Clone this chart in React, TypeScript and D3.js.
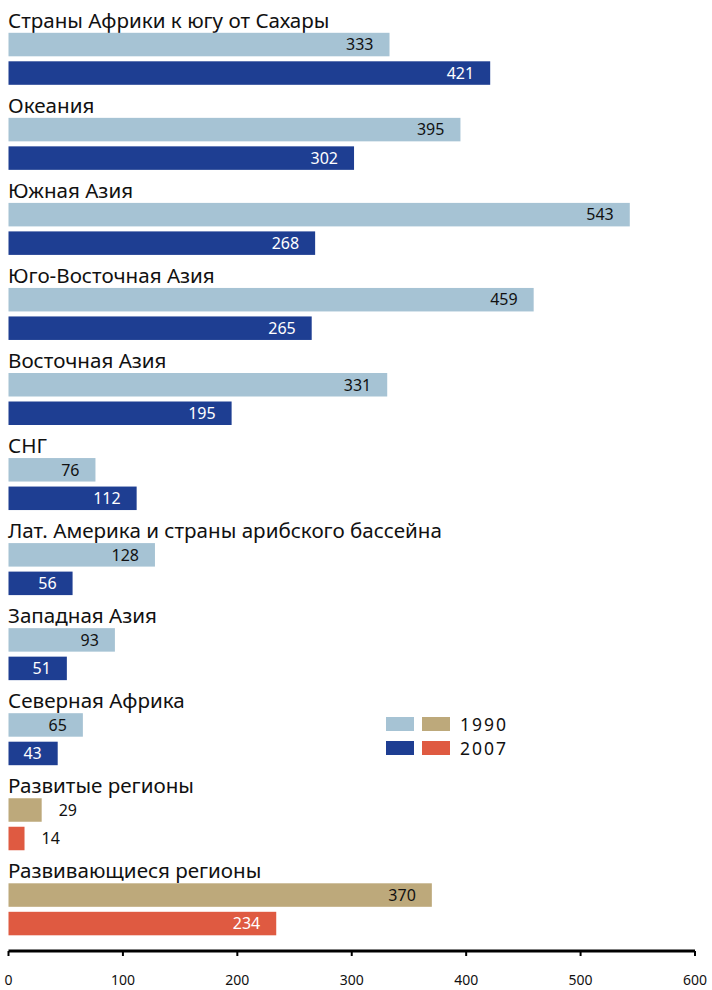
import React from "react";
import * as d3 from "d3";

const categories = [
  "Страны Африки к югу от Сахары",
  "Океания",
  "Южная Азия",
  "Юго-Восточная Азия",
  "Восточная Азия",
  "СНГ",
  "Лат. Америка и страны арибского бассейна",
  "Западная Азия",
  "Северная Африка",
  "Развитые регионы",
  "Развивающиеся регионы",
];
const values1990 = [333, 395, 543, 459, 331, 76, 128, 93, 65, 29, 370];
const values2007 = [421, 302, 268, 265, 195, 112, 56, 51, 43, 14, 234];
const aggregateGroups = ["Развитые регионы", "Развивающиеся регионы"];
const tickValues = [0, 100, 200, 300, 400, 500, 600];
const legendYears = ["1990", "2007"];

const C_LIGHT = "#a6c3d4";
const C_DARK = "#1e3e92";
const C_TAN = "#bda97b";
const C_RED = "#df5a41";

const FONT = "'Noto Sans', 'Open Sans', sans-serif";

export default function App() {
  const W = 712;
  const H = 990;
  const x = d3.scaleLinear().domain([0, 600]).range([8.5, 695]);
  const y = d3
    .scaleBand<string>()
    .domain(categories)
    .range([32.8, 32.8 + 85.05 * categories.length])
    .paddingInner(0)
    .paddingOuter(0);
  const barH = 23.5;
  const off2 = 28.5;
  const axisY = 951;

  return (
    <svg
      width={W}
      height={H}
      style={{ position: "absolute", left: 0, top: 0, background: "#fff" }}
      fontFamily={FONT}
    >
      {categories.map((cat, i) => {
        const y0 = y(cat)!;
        const agg = aggregateGroups.includes(cat);
        const c1 = agg ? C_TAN : C_LIGHT;
        const c2 = agg ? C_RED : C_DARK;
        const bars = [
          { v: values1990[i], yy: y0, color: c1 },
          { v: values2007[i], yy: y0 + off2, color: c2 },
        ];
        return (
          <g key={cat}>
            <text x={8} y={y0 - 5} fontSize={20.6} fill="#111">
              {cat}
            </text>
            {bars.map((b, j) => {
              const xe = x(b.v);
              const inside = b.v >= 40;
              return (
                <g key={j}>
                  <rect x={x(0)} y={b.yy} width={xe - x(0)} height={barH} fill={b.color} />
                  <text
                    x={inside ? xe - 16 : xe + 17}
                    y={b.yy + barH / 2}
                    dy="0.36em"
                    textAnchor={inside ? "end" : "start"}
                    fontSize={16}
                    fill={inside ? (j === 0 ? "#111" : "#fff") : "#111"}
                  >
                    {b.v}
                  </text>
                </g>
              );
            })}
          </g>
        );
      })}

      {/* Legend */}
      <g>
        <rect x={386} y={717} width={28} height={14} fill={C_LIGHT} />
        <rect x={422} y={717} width={28} height={14} fill={C_TAN} />
        <rect x={386} y={741} width={28} height={14} fill={C_DARK} />
        <rect x={422} y={741} width={28} height={14} fill={C_RED} />
        <text x={460} y={730.5} fontSize={17.5} letterSpacing={2} fill="#111">
          {legendYears[0]}
        </text>
        <text x={460} y={754.5} fontSize={17.5} letterSpacing={2} fill="#111">
          {legendYears[1]}
        </text>
      </g>

      {/* Axis */}
      <g>
        <line x1={x(0)} x2={x(600)} y1={axisY} y2={axisY} stroke="#000" strokeWidth={3} />
        {tickValues.map((t) => (
          <g key={t}>
            <line x1={x(t)} x2={x(t)} y1={axisY} y2={axisY + 5} stroke="#000" strokeWidth={2} />
            <text x={x(t)} y={985} textAnchor="middle" fontSize={14} fill="#111">
              {t}
            </text>
          </g>
        ))}
      </g>
    </svg>
  );
}
